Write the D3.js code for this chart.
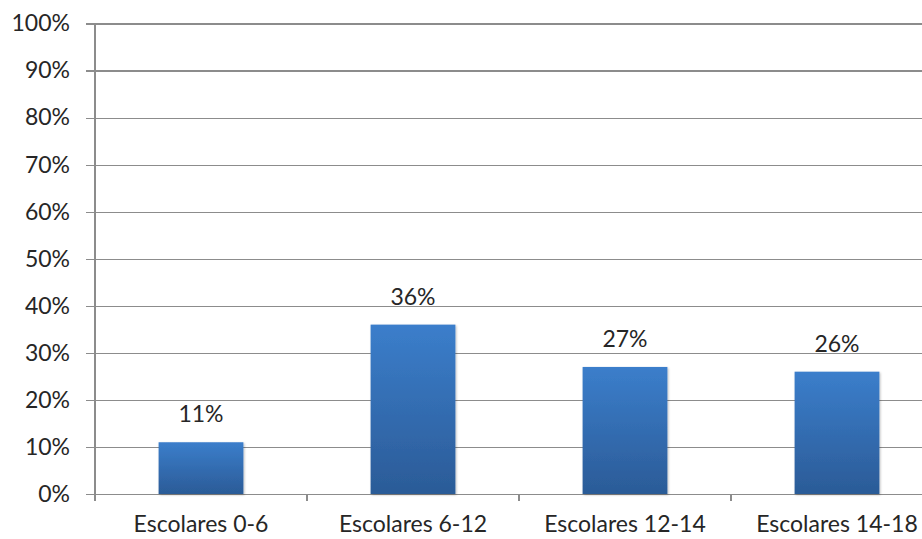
<!DOCTYPE html>
<html>
<head>
<meta charset="utf-8">
<script src="https://cdn.jsdelivr.net/npm/d3@7"></script>
<style>
  html, body { margin: 0; padding: 0; background: #fff; }
  svg { display: block; }
  text { font-family: Lato, "Open Sans", sans-serif; fill: #262626; }
</style>
</head>
<body>
<svg id="chart" width="922" height="539"></svg>
<script>
// Share of pupils by school stage
const categories = ["Escolares 0-6", "Escolares 6-12", "Escolares 12-14", "Escolares 14-18"];
const values = [11, 36, 27, 26];
const yTicks = [0, 10, 20, 30, 40, 50, 60, 70, 80, 90, 100];

const svg = d3.select("#chart");
const margin = { left: 95, top: 23.5 };
const plotWidth = 848;          // plot area runs a little past the right edge
const plotBottom = 494;
const fontSize = "23px";

const x = d3.scaleBand()
  .domain(categories)
  .range([margin.left, margin.left + plotWidth])
  .paddingInner(0.6)
  .paddingOuter(0.3);

const y = d3.scaleLinear()
  .domain([0, 100])
  .range([plotBottom, margin.top]);

// gradient for the bars
const defs = svg.append("defs");
const grad = defs.append("linearGradient")
  .attr("id", "barGrad").attr("x1", 0).attr("y1", 0).attr("x2", 0).attr("y2", 1);
grad.append("stop").attr("offset", "0%").attr("stop-color", "#3b7ecb");
grad.append("stop").attr("offset", "100%").attr("stop-color", "#2b5b97");

const shadow = defs.append("filter").attr("id", "barShadow")
  .attr("x", "-10%").attr("y", "-10%").attr("width", "130%").attr("height", "130%");
shadow.append("feDropShadow").attr("dx", 1).attr("dy", 1).attr("stdDeviation", 1.2)
  .attr("flood-color", "#000").attr("flood-opacity", 0.25);

// horizontal gridlines with left tick stubs
const yAxis = d3.axisLeft(y)
  .tickValues(yTicks)
  .tickFormat(d => d + "%")
  .tickSize(-(922 - margin.left));

const yG = svg.append("g")
  .attr("transform", `translate(${margin.left},0)`)
  .call(yAxis);
yG.select(".domain").remove();
yG.selectAll(".tick line")
  .attr("x1", -9)
  .attr("stroke", "#8c8c8c")
  .attr("stroke-width", 1.2)
  .attr("shape-rendering", "crispEdges");
yG.selectAll(".tick text")
  .attr("x", -25)
  .style("font-size", fontSize)
  .attr("fill", "#262626");

// vertical axis line
svg.append("line")
  .attr("x1", margin.left).attr("x2", margin.left)
  .attr("y1", margin.top).attr("y2", plotBottom)
  .attr("stroke", "#8c8c8c").attr("stroke-width", 1.2)
  .attr("shape-rendering", "crispEdges");

// bottom axis with ticks between categories
const xAxis = d3.axisBottom(x).tickSize(0).tickPadding(22);
const xG = svg.append("g")
  .attr("transform", `translate(0,${plotBottom})`)
  .call(xAxis);
xG.select(".domain").remove();
xG.selectAll(".tick text")
  .style("font-size", fontSize)
  .attr("fill", "#262626");

const step = x.step();
const boundaries = d3.range(categories.length + 1).map(i => margin.left + i * step);
svg.append("g").selectAll("line")
  .data(boundaries)
  .join("line")
  .attr("x1", d => d).attr("x2", d => d)
  .attr("y1", plotBottom).attr("y2", plotBottom + 7)
  .attr("stroke", "#8c8c8c").attr("stroke-width", 1.2)
  .attr("shape-rendering", "crispEdges");

// bars
svg.append("g").selectAll("rect")
  .data(values)
  .join("rect")
  .attr("x", (d, i) => x(categories[i]))
  .attr("width", x.bandwidth())
  .attr("y", d => y(d))
  .attr("height", d => plotBottom - y(d))
  .attr("fill", "url(#barGrad)")
  .attr("filter", "url(#barShadow)");

// value labels
svg.append("g").selectAll("text")
  .data(values)
  .join("text")
  .attr("x", (d, i) => x(categories[i]) + x.bandwidth() / 2)
  .attr("y", d => y(d) - 20)
  .attr("text-anchor", "middle")
  .style("font-size", fontSize)
  .text(d => d + "%");
</script>
</body>
</html>
